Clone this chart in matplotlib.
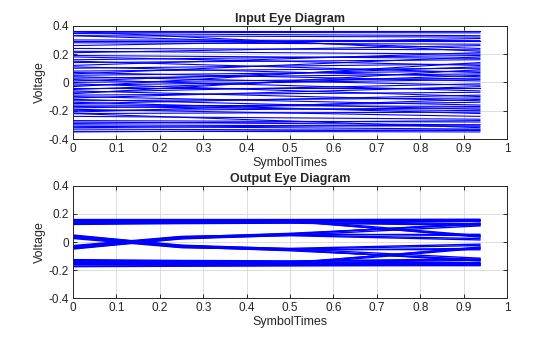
import numpy as np
import matplotlib
matplotlib.use("Agg")
import matplotlib.pyplot as plt

plt.rcParams['font.family'] = ['Liberation Sans', 'DejaVu Sans']

# Time points of each trace (one symbol period, 16 samples per symbol)
in_times = [0.0, 0.9375]
out_times = [0.0, 0.25, 0.5, 0.9375]

# Input eye: voltage of each trace at the start and end of the symbol window
in_start = [0.360, 0.355, 0.345, 0.330, 0.300, 0.290, 0.280, 0.360, 0.330, 0.260,
            0.240, 0.220, 0.210, 0.190, 0.180, 0.160, 0.150, 0.140, 0.120, 0.110,
            0.100, 0.080, 0.070, 0.060, 0.050,
            0.040, 0.030, 0.020, 0.010, 0.000, -0.010, -0.020, -0.030, -0.040,
            -0.050, -0.060, -0.070, -0.080, -0.090,
            -0.100, -0.110, -0.120, -0.130, -0.140, -0.150, -0.160, -0.170,
            -0.180, -0.190, -0.200, -0.210, -0.220, -0.240,
            -0.270, -0.280, -0.290, -0.300, -0.310, -0.320, -0.330, -0.345,
            -0.350, -0.220]
in_end = [0.360, 0.350, 0.330, 0.320, 0.295, 0.290, 0.270, 0.220, 0.240, 0.310,
          0.230, 0.200, 0.260, 0.170, 0.120, 0.190, 0.070, 0.160, 0.210, 0.040,
          0.130, 0.100, 0.010, 0.180, 0.080,
          -0.020, 0.060, -0.060, 0.110, 0.030, -0.100, 0.020, 0.140, -0.040,
          0.050, -0.130, -0.010, 0.090, -0.070,
          -0.160, -0.030, -0.190, -0.110, -0.220, -0.090, -0.170, -0.200,
          -0.140, -0.240, -0.180, -0.120, -0.210, -0.260,
          -0.280, -0.300, -0.270, -0.310, -0.330, -0.300, -0.340, -0.350,
          -0.335, -0.320]

# Output eye: voltage of each trace at the four time points
out_v0 = [0.160, 0.155, 0.150, 0.145, 0.140, 0.135, 0.130, 0.125, 0.150,
          0.155, 0.145, 0.135,
          -0.050, -0.040, -0.030, -0.045,
          -0.045, -0.035, -0.025, -0.040,
          -0.160, -0.155, -0.150, -0.145, -0.140, -0.135, -0.130, -0.125, -0.150,
          -0.170, -0.175,
          -0.155, -0.145, -0.135,
          0.050, 0.040, 0.030, 0.045,
          0.045, 0.035, 0.025, 0.040]
out_v1 = [0.160, 0.156, 0.151, 0.147, 0.143, 0.139, 0.135, 0.131, 0.150,
          0.157, 0.148, 0.140,
          0.025, 0.030, 0.035, 0.022,
          0.030, 0.038, 0.040, 0.028,
          -0.160, -0.156, -0.151, -0.147, -0.143, -0.139, -0.135, -0.131, -0.150,
          -0.168, -0.172,
          -0.157, -0.148, -0.140,
          -0.025, -0.030, -0.035, -0.022,
          -0.030, -0.038, -0.040, -0.028]
out_v2 = [0.160, 0.157, 0.152, 0.150, 0.147, 0.143, 0.138, 0.134, 0.148,
          0.158, 0.150, 0.146,
          0.055, 0.058, 0.062, 0.048,
          0.052, 0.058, 0.050, 0.045,
          -0.160, -0.157, -0.152, -0.150, -0.147, -0.143, -0.138, -0.134, -0.148,
          -0.165, -0.170,
          -0.158, -0.150, -0.146,
          -0.055, -0.058, -0.062, -0.048,
          -0.052, -0.058, -0.050, -0.045]
out_v3 = [0.162, 0.158, 0.155, 0.152, 0.150, 0.146, 0.125, 0.120, 0.130,
          0.045, 0.035, 0.040,
          0.135, 0.130, 0.125, 0.115,
          0.055, 0.045, 0.025, 0.015,
          -0.162, -0.158, -0.155, -0.152, -0.150, -0.146, -0.125, -0.120, -0.130,
          -0.168, -0.165,
          -0.045, -0.035, -0.040,
          -0.135, -0.130, -0.125, -0.115,
          -0.055, -0.045, -0.025, -0.015]

xticks = np.round(np.arange(0, 1.01, 0.1), 1)
xticklabels = ['0', '0.1', '0.2', '0.3', '0.4', '0.5', '0.6', '0.7', '0.8', '0.9', '1']
yticks = [-0.4, -0.2, 0, 0.2, 0.4]
yticklabels = ['-0.4', '-0.2', '0', '0.2', '0.4']

fig = plt.figure(figsize=(5.6, 3.37), dpi=100)
ax_in = fig.add_axes([0.1304, 0.5875, 0.775, 0.336])
ax_out = fig.add_axes([0.1304, 0.1148, 0.775, 0.334])


def style(ax, title):
    ax.set_xlim(0, 1)
    ax.set_ylim(-0.4, 0.4)
    ax.set_xticks(xticks)
    ax.set_xticklabels(xticklabels)
    ax.set_yticks(yticks)
    ax.set_yticklabels(yticklabels)
    ax.grid(True, color='#dcdcdc', linewidth=0.7)
    ax.set_axisbelow(True)
    ax.tick_params(direction='in', length=3, width=0.7, labelsize=8.5,
                   top=True, right=True, colors='#262626', pad=3)
    for s in ax.spines.values():
        s.set_color('#262626')
        s.set_linewidth(0.7)
    ax.set_title(title, fontsize=9, fontweight='bold', color='#262626', pad=3)
    ax.set_xlabel('SymbolTimes', fontsize=9, color='#262626', labelpad=1)
    ax.set_ylabel('Voltage', fontsize=9, color='#262626', labelpad=2)


for v0, v1 in zip(in_start, in_end):
    ax_in.plot(in_times, [v0, v1], color='#0000ff', linewidth=0.8)

for trace in zip(out_v0, out_v1, out_v2, out_v3):
    ax_out.plot(out_times, trace, color='#0000ff', linewidth=1.0)

style(ax_in, 'Input Eye Diagram')
style(ax_out, 'Output Eye Diagram')

fig.savefig('out.png', dpi=100)
